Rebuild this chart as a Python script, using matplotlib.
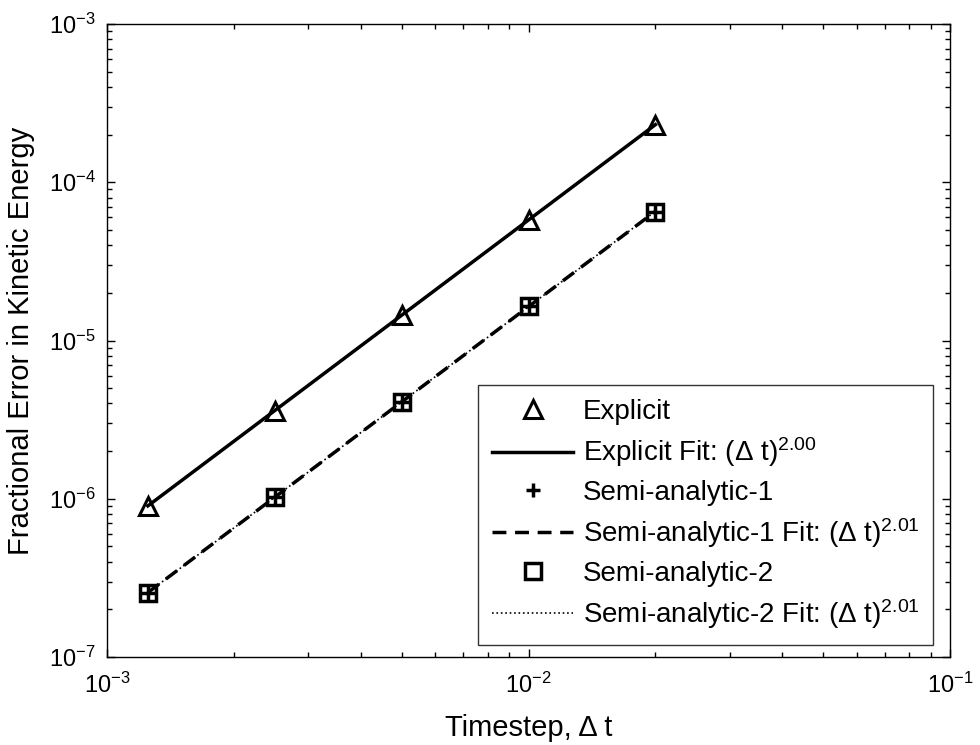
import numpy as np
import matplotlib.pyplot as plt

plt.rcParams['font.family'] = ['Liberation Sans', 'DejaVu Sans']
plt.rcParams['mathtext.fontset'] = 'custom'
plt.rcParams['mathtext.rm'] = 'Liberation Sans'
plt.rcParams['mathtext.it'] = 'Liberation Sans:italic'
plt.rcParams['mathtext.bf'] = 'Liberation Sans:bold'

# timesteps and fractional kinetic energy errors
dt = [0.00125, 0.0025, 0.005, 0.01, 0.02]
err_explicit = [9.0e-7, 3.6e-6, 1.45e-5, 5.8e-5, 2.3e-4]
err_semi1 = [2.55e-7, 1.02e-6, 4.1e-6, 1.65e-5, 6.5e-5]
err_semi2 = [2.55e-7, 1.02e-6, 4.1e-6, 1.65e-5, 6.5e-5]


def power_fit(x, y):
    p = np.polyfit(np.log10(x), np.log10(y), 1)
    return 10 ** np.polyval(p, np.log10(x))


fig = plt.figure(figsize=(9.8, 7.45), dpi=100)
ax = fig.add_axes([0.1092, 0.1181, 0.8602, 0.8497])

ax.loglog(dt, err_explicit, linestyle='None', marker='^', ms=13, mfc='none',
          mec='k', mew=2.2, label='Explicit')
ax.loglog(dt, power_fit(dt, err_explicit), 'k-', lw=2.5,
          label='Explicit Fit: (Δ t)$^{2.00}$')
ax.loglog(dt, err_semi1, linestyle='None', marker='+', ms=10, mec='k', mew=2.5,
          label='Semi-analytic-1')
ax.loglog(dt, power_fit(dt, err_semi1), 'k--', lw=2.5, dashes=(4, 2.5),
          label='Semi-analytic-1 Fit: (Δ t)$^{2.01}$')
ax.loglog(dt, err_semi2, linestyle='None', marker='s', ms=12, mfc='none',
          mec='k', mew=2.5, label='Semi-analytic-2')
ax.loglog(dt, power_fit(dt, err_semi2), 'k:', lw=1.2,
          label='Semi-analytic-2 Fit: (Δ t)$^{2.01}$')

ax.set_xlim(1e-3, 1e-1)
ax.set_ylim(1e-7, 1e-3)
ax.tick_params(which='both', direction='in', top=True, right=True,
               labelsize=17, width=1)
ax.tick_params(which='major', length=6)
ax.tick_params(which='minor', length=3.5)
ax.tick_params(axis='x', pad=11)
ax.tick_params(axis='y', pad=8)
for s in ax.spines.values():
    s.set_linewidth(1)

ax.set_xlabel('Timestep, Δ t', fontsize=21, labelpad=12)
ax.set_ylabel('Fractional Error in Kinetic Energy', fontsize=21, labelpad=10)

leg = ax.legend(loc='lower right', bbox_to_anchor=(0.980, 0.019), fontsize=20,
                frameon=True, fancybox=False, edgecolor='k', handlelength=2.9,
                borderaxespad=0, borderpad=0.5, labelspacing=0.38,
                handletextpad=0.35)
leg.get_frame().set_linewidth(1)

fig.savefig('out.png', dpi=100, facecolor='white')
